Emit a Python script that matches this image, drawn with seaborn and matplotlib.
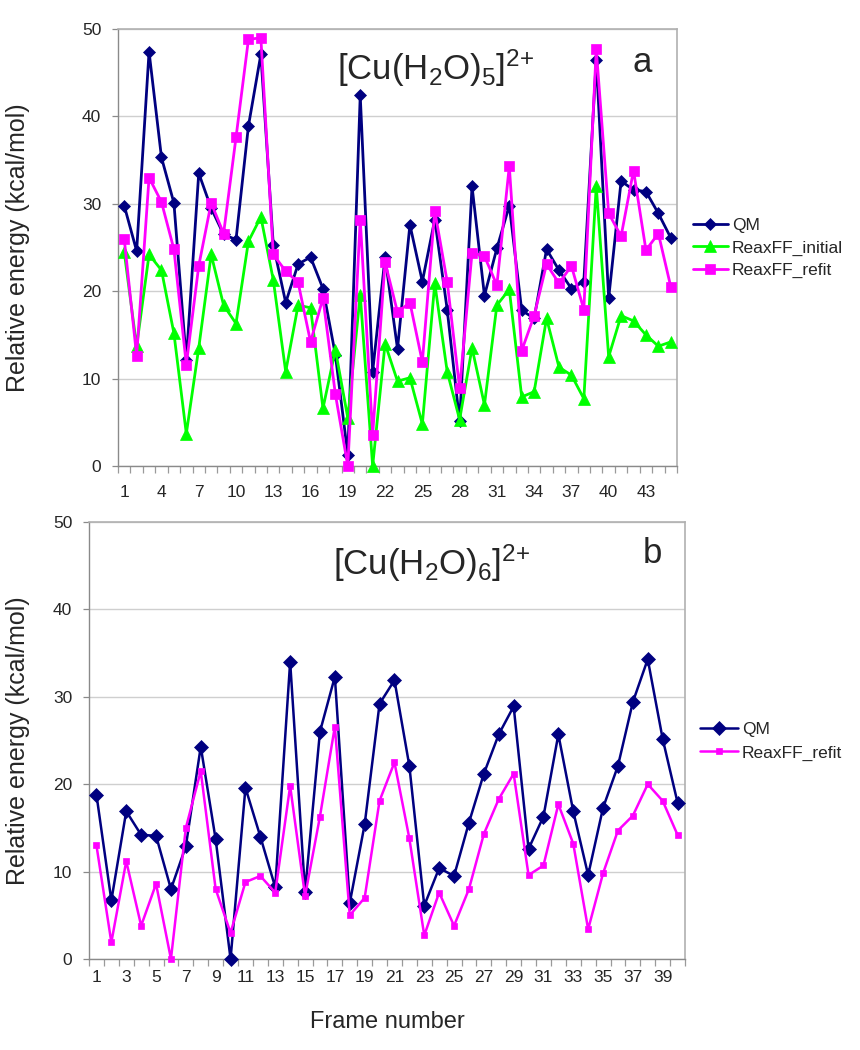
import matplotlib
matplotlib.use("Agg")
import matplotlib.pyplot as plt
import seaborn as sns
import pandas as pd

# ---------------- data ----------------
frames_a = list(range(1, 46))
qm_a = [29.8, 24.6, 47.4, 35.3, 30.1, 12.1, 33.5, 29.5, 26.5, 25.9,
        38.9, 47.1, 25.3, 18.7, 23.1, 23.9, 20.3, 12.7, 1.3, 42.4,
        10.8, 23.9, 13.4, 27.6, 21.1, 28.2, 17.9, 5.1, 32.0, 19.5,
        24.9, 29.8, 17.8, 16.9, 24.8, 22.4, 20.3, 21.1, 46.5, 19.2,
        32.6, 31.6, 31.4, 28.9, 26.1]
initial_a = [24.5, 13.7, 24.2, 22.4, 15.2, 3.7, 13.5, 24.2, 18.4, 16.3,
             25.7, 28.5, 21.3, 10.8, 18.4, 18.1, 6.6, 13.3, 5.5, 19.6,
             0.0, 14.0, 9.7, 10.1, 4.8, 20.9, 10.8, 5.3, 13.5, 7.0,
             18.4, 20.2, 7.9, 8.5, 16.9, 11.3, 10.4, 7.7, 32.0, 12.5,
             17.2, 16.6, 15.0, 13.7, 14.2]
refit_a = [26.0, 12.6, 33.0, 30.2, 24.8, 11.6, 22.9, 30.1, 26.6, 37.6,
           48.8, 49.0, 24.2, 22.3, 21.0, 14.2, 19.2, 8.2, 0.0, 28.2,
           3.6, 23.3, 17.6, 18.7, 11.9, 29.2, 21.1, 8.9, 24.4, 24.0,
           20.7, 34.3, 13.2, 17.2, 23.1, 20.9, 22.9, 17.9, 47.7, 28.9,
           26.3, 33.8, 24.7, 26.6, 20.5]
ticks_a = [1, 4, 7, 10, 13, 16, 19, 22, 25, 28, 31, 34, 37, 40, 43]
ticklabels_a = ["1", "4", "7", "10", "13", "16", "19", "22", "25", "28",
                "31", "34", "37", "40", "43"]

frames_b = list(range(1, 41))
qm_b = [18.8, 6.7, 16.9, 14.2, 14.1, 8.0, 12.9, 24.3, 13.7, 0.0,
        19.6, 14.0, 8.2, 34.0, 7.7, 26.0, 32.3, 6.4, 15.4, 29.2,
        31.9, 22.1, 6.1, 10.4, 9.5, 15.6, 21.2, 25.7, 28.9, 12.6,
        16.3, 25.7, 16.9, 9.6, 17.3, 22.1, 29.4, 34.3, 25.2, 17.9]
refit_b = [13.0, 1.9, 11.2, 3.8, 8.6, 0.0, 15.0, 21.5, 8.0, 3.0,
           8.8, 9.5, 7.6, 19.8, 7.2, 16.3, 26.6, 5.0, 7.0, 18.1,
           22.5, 13.8, 2.7, 7.6, 3.8, 8.0, 14.3, 18.3, 21.2, 9.6,
           10.7, 17.7, 13.2, 3.4, 9.8, 14.7, 16.4, 20.0, 18.1, 14.2]
ticks_b = [1, 3, 5, 7, 9, 11, 13, 15, 17, 19, 21, 23, 25, 27, 29, 31,
           33, 35, 37, 39]
ticklabels_b = ["1", "3", "5", "7", "9", "11", "13", "15", "17", "19",
                "21", "23", "25", "27", "29", "31", "33", "35", "37", "39"]

yticks = [0, 10, 20, 30, 40, 50]
yticklabels = ["0", "10", "20", "30", "40", "50"]

names = ["QM", "ReaxFF_initial", "ReaxFF_refit"]
colors = {"QM": "#000080", "ReaxFF_initial": "#00FF00", "ReaxFF_refit": "#FF00FF"}
markers = {"QM": "D", "ReaxFF_initial": "^", "ReaxFF_refit": "s"}

# ---------------- style ----------------
sns.set_style("white")
plt.rcParams["font.family"] = ["Liberation Sans", "DejaVu Sans"]
plt.rcParams["mathtext.fontset"] = "custom"
plt.rcParams["mathtext.rm"] = "Liberation Sans"
plt.rcParams["mathtext.it"] = "Liberation Sans"

W, H = 860, 1050
fig = plt.figure(figsize=(W / 100, H / 100), dpi=100)


def px_axes(l, t, r, b):
    return fig.add_axes([l / W, 1 - b / H, (r - l) / W, (b - t) / H])


def style_axis(ax, n, ticks, labels, xpad):
    ax.set_xlim(0.5, n + 0.5)
    ax.set_ylim(0, 50)
    ax.set_yticks(yticks)
    ax.set_yticklabels(yticklabels)
    ax.set_xticks(ticks)
    ax.set_xticklabels(labels)
    ax.set_xticks([i + 0.5 for i in range(0, n + 1)], minor=True)
    ax.tick_params(axis="x", which="major", length=0, pad=xpad, labelsize=12.5)
    ax.tick_params(axis="x", which="minor", length=5, width=0.9,
                   color="#9a9a9a", direction="out", bottom=True)
    ax.tick_params(axis="y", which="major", length=4, width=0.9,
                   color="#8a8a8a", direction="out", left=True, pad=8,
                   labelsize=12.5)
    ax.yaxis.grid(True, color="#cfcfcf", linewidth=1.0)
    ax.xaxis.grid(False)
    ax.set_axisbelow(True)
    for side in ["left", "bottom"]:
        ax.spines[side].set_color("#8a8a8a")
        ax.spines[side].set_linewidth(1.0)
    for side in ["top", "right"]:
        ax.spines[side].set_color("#b0b0b0")
        ax.spines[side].set_linewidth(1.2)
    ax.set_xlabel("")


# ---------------- panel a ----------------
ax1 = px_axes(118, 29, 677, 466)
series_a = {"QM": qm_a, "ReaxFF_initial": initial_a, "ReaxFF_refit": refit_a}
sizes_a = {"QM": 6.0, "ReaxFF_initial": 8.0, "ReaxFF_refit": 7.2}
for nm in names:
    df = pd.DataFrame({"frame": frames_a, "energy": series_a[nm]})
    sns.lineplot(data=df, x="frame", y="energy", ax=ax1, color=colors[nm],
                 marker=markers[nm], markersize=sizes_a[nm],
                 markeredgecolor=colors[nm], markerfacecolor=colors[nm],
                 markeredgewidth=0.5, linewidth=2.0, legend=False,
                 clip_on=False, zorder=3)
style_axis(ax1, 45, ticks_a, ticklabels_a, 14)
ax1.set_ylabel("Relative energy (kcal/mol)", fontsize=18, va="center")
ax1.yaxis.set_label_coords((18 - 118) / 559, 0.5)
lines_a = ax1.get_lines()[:3]
fig.legend(lines_a, names, loc="center left",
           bbox_to_anchor=(693 / W, 1 - 248 / H), frameon=False,
           fontsize=12.5, handlelength=2.0, handletextpad=0.25,
           labelspacing=0.42, borderpad=0, borderaxespad=0, numpoints=1)
fig.text(337 / W, 1 - 80 / H, r"$\mathregular{[Cu(H_2O)_5]^{2\text{+}}}$",
         fontsize=25, va="baseline", ha="left")
fig.text(633 / W, 1 - 72 / H, "a", fontsize=25, va="baseline", ha="left")

# ---------------- panel b ----------------
ax2 = px_axes(89, 522, 685, 959)
series_b = {"QM": qm_b, "ReaxFF_refit": refit_b}
sizes_b = {"QM": 6.8, "ReaxFF_refit": 5.0}
for nm in ["QM", "ReaxFF_refit"]:
    df = pd.DataFrame({"frame": frames_b, "energy": series_b[nm]})
    sns.lineplot(data=df, x="frame", y="energy", ax=ax2, color=colors[nm],
                 marker=markers[nm], markersize=sizes_b[nm],
                 markeredgecolor=colors[nm], markerfacecolor=colors[nm],
                 markeredgewidth=0.5, linewidth=1.8, legend=False,
                 clip_on=False, zorder=3)
style_axis(ax2, 40, ticks_b, ticklabels_b, 8)
ax2.set_ylabel("Relative energy (kcal/mol)", fontsize=18, va="center")
ax2.yaxis.set_label_coords((18 - 89) / 596, 0.5)
ax2.set_xlabel("Frame number", fontsize=17, va="center")
ax2.xaxis.set_label_coords(0.5, -(1022 - 959) / 437)
lines_b = ax2.get_lines()[:2]
fig.legend(lines_b, ["QM", "ReaxFF_refit"], loc="center left",
           bbox_to_anchor=(700 / W, 1 - 741 / H), frameon=False,
           fontsize=12.5, handlelength=2.2, handletextpad=0.2,
           labelspacing=0.5, borderpad=0, borderaxespad=0, numpoints=1)
fig.text(333 / W, 1 - 575 / H, r"$\mathregular{[Cu(H_2O)_6]^{2\text{+}}}$",
         fontsize=25, va="baseline", ha="left")
fig.text(643 / W, 1 - 563 / H, "b", fontsize=25, va="baseline", ha="left")

fig.savefig("out.png", dpi=100, facecolor="white")
